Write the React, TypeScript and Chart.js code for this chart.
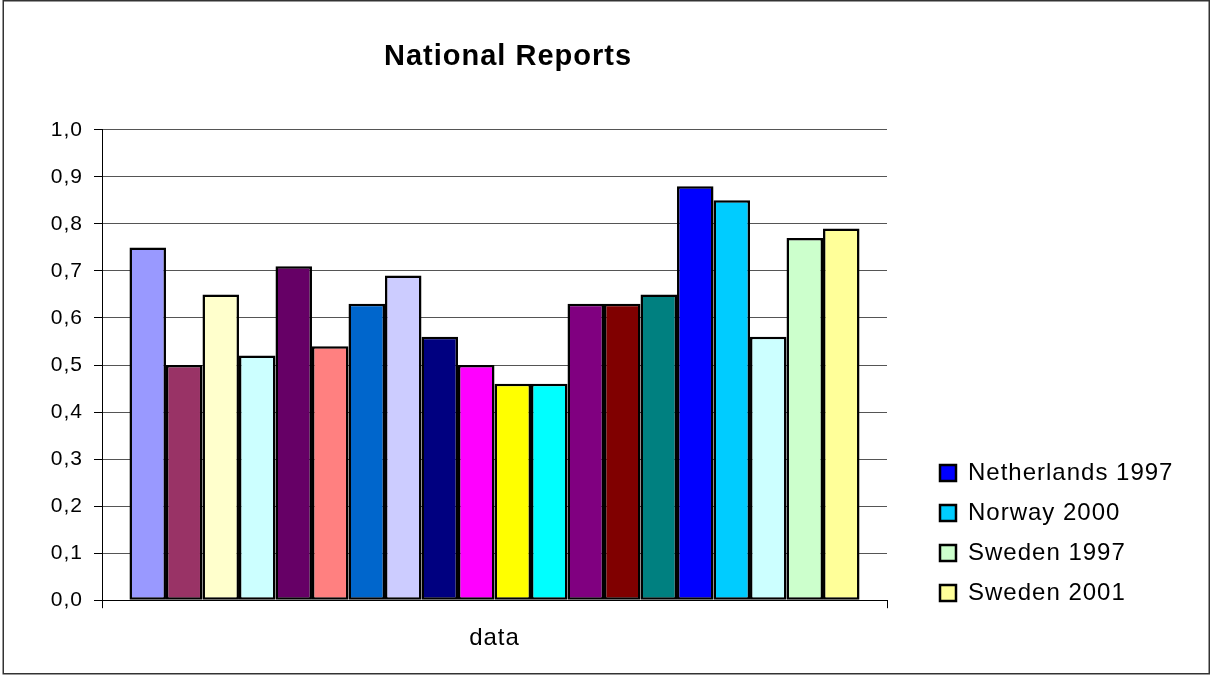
import React, { useEffect, useRef } from 'react';
import { Chart, registerables } from 'chart.js';

Chart.register(...registerables);

const categories = ['data'];
const seriesNames = [
  'Series 1', 'Series 2', 'Series 3', 'Series 4', 'Series 5',
  'Series 6', 'Series 7', 'Series 8', 'Series 9', 'Series 10',
  'Series 11', 'Series 12', 'Series 13', 'Series 14', 'Series 15',
  'Netherlands 1997', 'Norway 2000', 'Series 18', 'Sweden 1997', 'Sweden 2001',
];
const seriesValues = [
  0.75, 0.5, 0.65, 0.52, 0.71, 0.54, 0.63, 0.69, 0.56, 0.5,
  0.46, 0.46, 0.63, 0.63, 0.65, 0.88, 0.85, 0.56, 0.77, 0.79,
];
const seriesColors = [
  '#9999FF', '#993366', '#FFFFCC', '#CCFFFF', '#660066',
  '#FF8080', '#0066CC', '#CCCCFF', '#000080', '#FF00FF',
  '#FFFF00', '#00FFFF', '#800080', '#800000', '#008080',
  '#0000FF', '#00CCFF', '#CCFFFF', '#CCFFCC', '#FFFF99',
];
const legendShown = ['Netherlands 1997', 'Norway 2000', 'Sweden 1997', 'Sweden 2001'];
const yTickLabels = ['0,0', '0,1', '0,2', '0,3', '0,4', '0,5', '0,6', '0,7', '0,8', '0,9', '1,0'];
const chartTitle = 'National Reports';

const FONT = "'Liberation Sans', Arial, sans-serif";

const spacingPlugin = {
  id: 'spacing',
  beforeUpdate(chart: any) {
    chart.ctx.letterSpacing = '1px';
  },
  beforeDraw(chart: any) {
    chart.ctx.letterSpacing = '1px';
  },
};

const placePlugin = {
  id: 'place',
  afterLayout(chart: any) {
    const lg = chart.legend;
    if (lg) {
      const w = lg.width;
      const h = lg.height;
      lg.left = 924;
      lg.top = 445;
      lg.right = 924 + w;
      lg.bottom = 445 + h;
    }
    const t = chart.titleBlock;
    if (t) {
      t.left += 13.5;
      t.right += 13.5;
    }
  },
};

const framePlugin = {
  id: 'frame',
  afterDraw(chart: any) {
    const ctx = chart.ctx;
    ctx.save();
    ctx.strokeStyle = '#333';
    ctx.lineWidth = 1.5;
    ctx.strokeRect(3.25, 0.75, 1206, 673);
    ctx.restore();
  },
};

export default function App() {
  const ref = useRef<HTMLCanvasElement>(null);

  useEffect(() => {
    document.body.style.margin = '0';
    const canvas = ref.current;
    if (!canvas) return;
    const datasets = seriesNames.map((name, i) => ({
      label: name,
      data: [seriesValues[i]],
      backgroundColor: seriesColors[i],
      borderColor: '#000',
      borderWidth: 2.5,
      borderSkipped: false as const,
      barPercentage: 1,
      categoryPercentage: 0.93,
    }));
    const chart = new Chart(canvas, {
      type: 'bar',
      data: { labels: categories, datasets },
      plugins: [spacingPlugin, placePlugin, framePlugin],
      options: {
        animation: false,
        responsive: false,
        devicePixelRatio: 1,
        layout: { padding: { left: 0, right: 324, top: 0, bottom: 6 } },
        plugins: {
          title: {
            display: true,
            text: chartTitle,
            fullSize: false,
            color: '#000',
            font: { family: FONT, size: 29, weight: 'bold' },
            padding: { top: 40, bottom: 55 },
          },
          legend: {
            display: true,
            position: 'chartArea' as any,
            align: 'start',
            labels: {
              color: '#000',
              font: { family: FONT, size: 24 },
              boxWidth: 16,
              boxHeight: 16,
              padding: 16,
              filter: (item: any) => legendShown.includes(item.text),
            },
          },
          tooltip: { enabled: false },
        },
        scales: {
          x: {
            grid: {
              display: true,
              drawOnChartArea: false,
              drawTicks: true,
              tickLength: 8,
              color: '#000',
              offset: true,
            },
            border: { display: true, color: '#000', width: 1 },
            ticks: { color: '#000', font: { family: FONT, size: 24 }, padding: 16 },
          },
          y: {
            min: 0,
            max: 1,
            ticks: {
              stepSize: 0.1,
              color: '#000',
              font: { family: FONT, size: 21 },
              padding: 11,
              callback: (_v: any, index: number) => yTickLabels[index],
            },
            grid: { color: '#555', tickColor: '#000', tickLength: 8, lineWidth: 1 },
            border: { display: true, color: '#000', width: 1 },
            afterFit: (scale: any) => {
              scale.width = 102;
            },
          },
        },
      },
    });
    return () => chart.destroy();
  }, []);

  return (
    <div style={{ width: 1211, height: 675, background: '#fff' }}>
      <canvas ref={ref} width={1211} height={675} style={{ display: 'block' }} />
    </div>
  );
}
